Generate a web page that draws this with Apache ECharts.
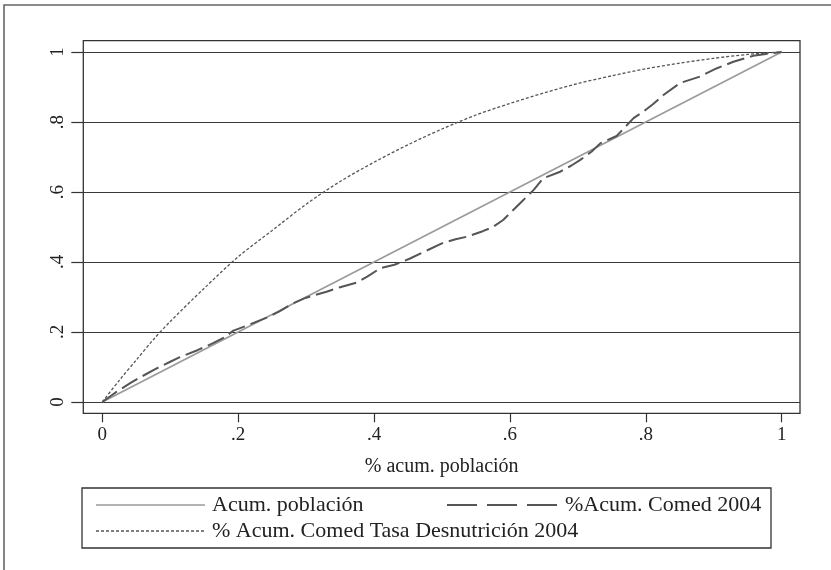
<!DOCTYPE html>
<html>
<head>
<meta charset="utf-8">
<script src="https://cdn.jsdelivr.net/npm/echarts@6/dist/echarts.min.js"></script>
<style>html,body{margin:0;padding:0;background:#fff}#chart{width:831px;height:570px}</style>
</head>
<body>
<div id="chart"></div>
<script>
// ---- data ----
var tickValues = [0, 0.2, 0.4, 0.6, 0.8, 1];
var tickLabels = ['0', '.2', '.4', '.6', '.8', '1'];
var xTitle = '% acum. población';
var seriesNames = ['Acum. población', '%Acum. Comed 2004', '% Acum. Comed Tasa Desnutrición 2004'];

var poblacionX = [0, 1];
var poblacionY = [0, 1];

var comedX = [0, 0.02, 0.041, 0.06, 0.08, 0.1, 0.114, 0.14, 0.163, 0.18, 0.193, 0.215, 0.242, 0.26, 0.281, 0.3, 0.33, 0.35, 0.374, 0.39, 0.409, 0.43, 0.453, 0.48, 0.502, 0.52, 0.536, 0.56, 0.575, 0.59, 0.603, 0.615, 0.635, 0.649, 0.674, 0.69, 0.703, 0.72, 0.733, 0.757, 0.782, 0.796, 0.81, 0.826, 0.85, 0.88, 0.904, 0.929, 0.958, 0.98, 1];
var comedY = [0, 0.028, 0.054, 0.075, 0.096, 0.115, 0.128, 0.148, 0.168, 0.185, 0.204, 0.22, 0.241, 0.258, 0.282, 0.298, 0.315, 0.328, 0.341, 0.358, 0.382, 0.392, 0.41, 0.435, 0.455, 0.465, 0.472, 0.488, 0.5, 0.52, 0.545, 0.568, 0.606, 0.639, 0.658, 0.675, 0.691, 0.715, 0.739, 0.76, 0.811, 0.829, 0.85, 0.877, 0.911, 0.93, 0.953, 0.972, 0.989, 0.995, 1];

var tasaX = [0, 0.025, 0.05, 0.075, 0.1, 0.15, 0.2, 0.25, 0.3, 0.35, 0.4, 0.45, 0.5, 0.55, 0.6, 0.65, 0.7, 0.75, 0.8, 0.85, 0.9, 0.95, 1];
var tasaY = [0, 0.062, 0.12, 0.178, 0.23, 0.325, 0.415, 0.49, 0.565, 0.63, 0.685, 0.735, 0.78, 0.82, 0.853, 0.883, 0.91, 0.932, 0.952, 0.968, 0.982, 0.993, 1];

function pairs(xs, ys) { return xs.map(function (x, i) { return [x, ys[i]]; }); }

var FONT = '"Liberation Serif", "DejaVu Serif", serif';
var chart = echarts.init(document.getElementById('chart'), null, { renderer: 'canvas' });

function fmt(v) { var i = tickValues.indexOf(v); return i >= 0 ? tickLabels[i] : ''; }

var option = {
  backgroundColor: '#fff',
  animation: false,
  grid: {
    left: 83.3, top: 40.7, width: 716.7, height: 372.6,
    show: true, borderColor: '#333', borderWidth: 1.3, backgroundColor: 'transparent'
  },
  xAxis: {
    type: 'value', min: -0.028, max: 1.027, position: 'bottom',
    axisLine: { show: false, onZero: false },
    splitLine: { show: false },
    axisTick: { show: true, inside: false, customValues: tickValues, length: 9, lineStyle: { color: '#333', width: 1.2 } },
    axisLabel: {
      customValues: tickValues, margin: 12, formatter: fmt,
      fontFamily: FONT, fontSize: 19, color: '#222'
    },
    name: xTitle, nameLocation: 'middle', nameGap: 43,
    nameTextStyle: { fontFamily: FONT, fontSize: 20, color: '#222' }
  },
  yAxis: {
    type: 'value', min: -0.0323, max: 1.0323, position: 'left',
    axisLine: { show: false, onZero: false },
    splitLine: { show: false },
    axisTick: { show: true, inside: false, customValues: tickValues, length: 12, lineStyle: { color: '#333', width: 1.2 } },
    axisLabel: {
      customValues: tickValues, rotate: 90, margin: 16, formatter: fmt,
      fontFamily: FONT, fontSize: 19, color: '#222'
    }
  },
  series: [
    {
      name: seriesNames[0], type: 'line', data: pairs(poblacionX, poblacionY),
      symbol: 'none', z: 3,
      lineStyle: { color: '#9a9a9a', width: 1.6, type: 'solid' },
      markLine: {
        silent: true, symbol: ['none', 'none'], label: { show: false },
        lineStyle: { color: '#3a3a3a', width: 1.2, type: 'solid' },
        data: tickValues.map(function (v) { return { yAxis: v }; }),
        z: 1
      }
    },
    {
      name: seriesNames[1], type: 'line', data: pairs(comedX, comedY),
      symbol: 'none', z: 4,
      lineStyle: { color: '#555', width: 2, type: [18, 6] }
    },
    {
      name: seriesNames[2], type: 'line', data: pairs(tasaX, tasaY),
      symbol: 'none', smooth: 0.3, z: 4,
      lineStyle: { color: '#555', width: 1.3, type: [3, 2] }
    }
  ],
  graphic: [
    { type: 'rect', shape: { x: 4, y: 5, width: 900, height: 700 }, style: { fill: 'none', stroke: '#666', lineWidth: 1.6 }, silent: true },
    { type: 'rect', shape: { x: 82, y: 488, width: 689, height: 60 }, style: { fill: '#fff', stroke: '#333', lineWidth: 1.3 }, silent: true },
    { type: 'line', shape: { x1: 96, y1: 505, x2: 205, y2: 505 }, style: { stroke: '#9a9a9a', lineWidth: 1.6 } },
    { type: 'text', style: { text: seriesNames[0], x: 212, y: 505, fill: '#222', font: '22px ' + FONT, verticalAlign: 'middle' } },
    { type: 'line', shape: { x1: 447, y1: 505, x2: 557, y2: 505 }, style: { stroke: '#555', lineWidth: 2, lineDash: [30, 10] } },
    { type: 'text', style: { text: seriesNames[1], x: 565, y: 505, fill: '#222', font: '22px ' + FONT, verticalAlign: 'middle' } },
    { type: 'line', shape: { x1: 96, y1: 531, x2: 205, y2: 531 }, style: { stroke: '#555', lineWidth: 1.3, lineDash: [3, 2] } },
    { type: 'text', style: { text: seriesNames[2], x: 212, y: 531, fill: '#222', font: '22px ' + FONT, verticalAlign: 'middle' } }
  ]
};
chart.setOption(option);
</script>
</body>
</html>
